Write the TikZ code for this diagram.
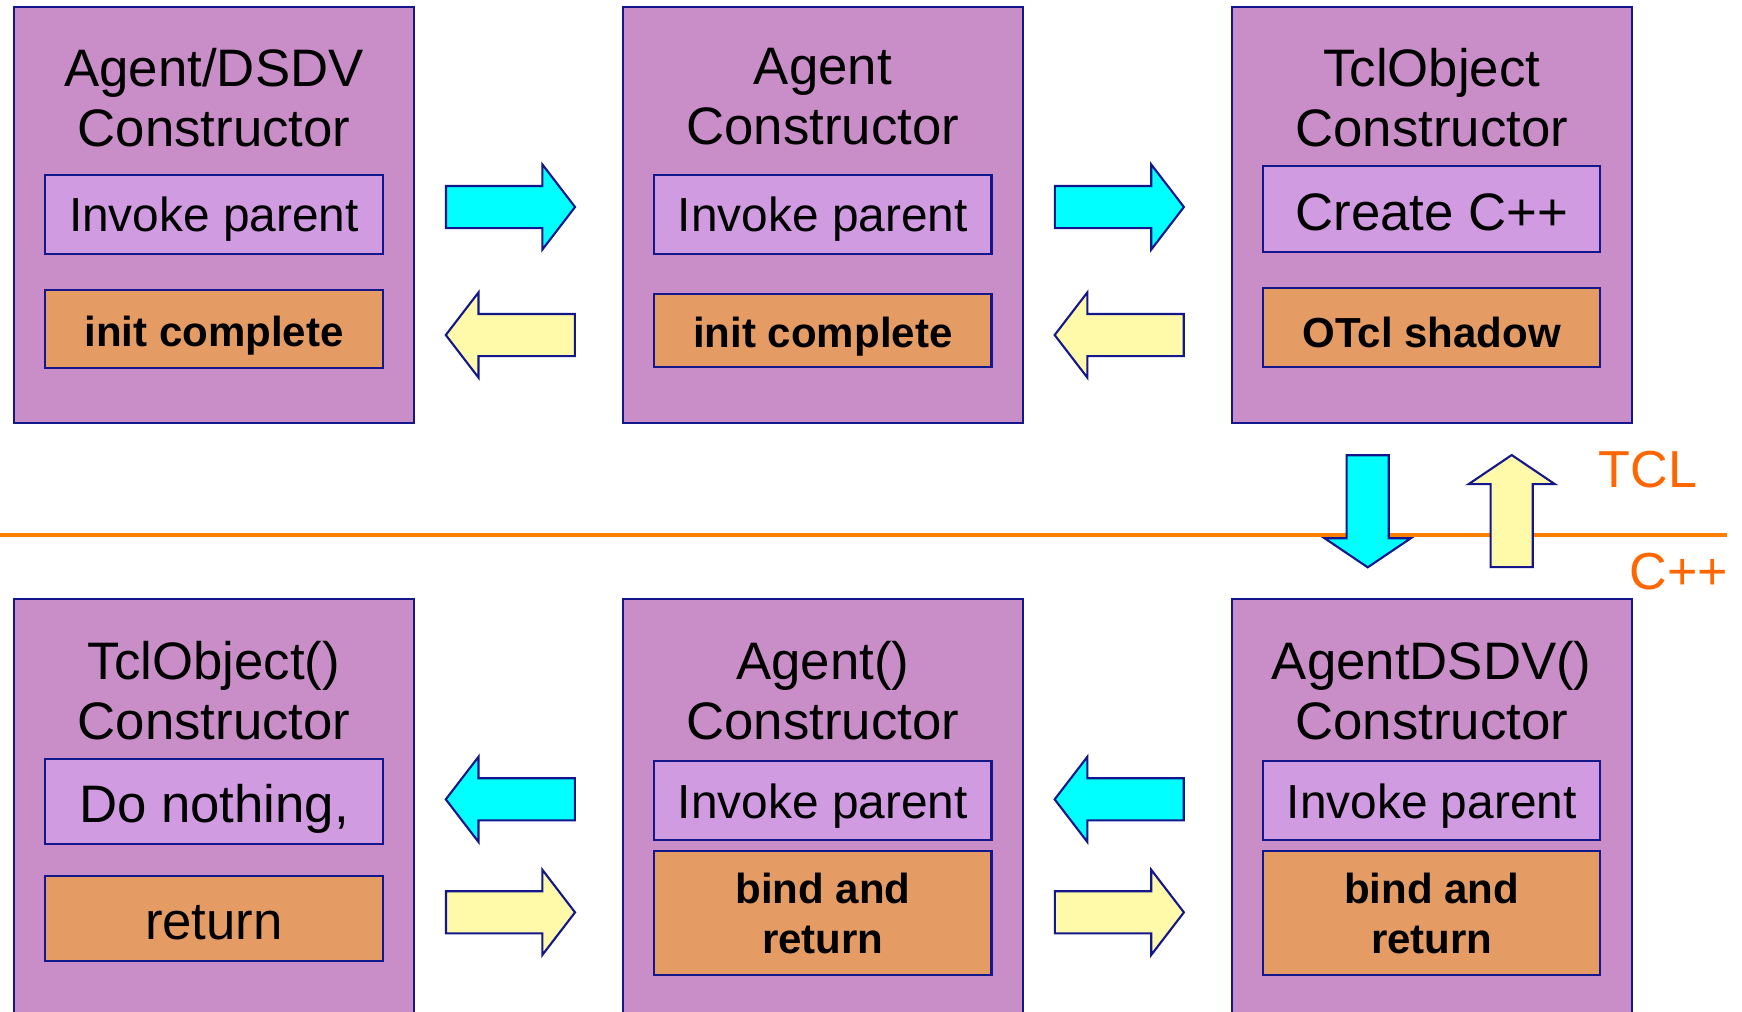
\documentclass[tikz,border=0pt]{standalone}
\usepackage{fontspec}
\setmainfont{Liberation Sans}
\usetikzlibrary{shapes,shapes.arrows,calc,positioning}

\definecolor{classfill}{RGB}{201,142,199}
\definecolor{callfill}{RGB}{208,155,224}
\definecolor{retfill}{RGB}{228,156,100}
\definecolor{rim}{RGB}{20,22,140}
\definecolor{downcall}{RGB}{0,255,255}
\definecolor{upcall}{RGB}{255,250,170}
\definecolor{split}{RGB}{255,128,0}
\definecolor{splittext}{RGB}{255,102,0}

\newcommand{\titlefont}{\fontsize{15}{17.1}\selectfont}
\newcommand{\callfont}{\fontsize{13.6}{16}\selectfont}
\newcommand{\retfont}{\fontsize{11.95}{14.2}\selectfont\bfseries}

\tikzset{
  class/.style={draw=rim, fill=classfill, line width=0.6pt,
    minimum width=4cm, minimum height=4.16cm, inner sep=0pt},
  ctitle/.style={font=\titlefont, align=center, inner sep=0pt},
  part/.style={draw=rim, line width=0.6pt, minimum width=3.37cm, inner sep=0pt},
  call/.style={part, fill=callfill, font=\callfont, text depth=0pt},
  ret/.style={part, fill=retfill, font=\retfont},
  flow/.style={single arrow, draw=rim, line width=0.6pt, inner sep=0.2cm,
    single arrow head extend=0.215cm, single arrow tip angle=105,
    minimum height=1.29cm},
  vflow/.style={flow, single arrow head extend=0.22cm,
    single arrow tip angle=112, minimum height=1.12cm},
  layer/.style={font=\fontsize{14.8}{17}\selectfont, text=splittext,
    anchor=base west, inner sep=0pt}
}

\begin{document}
\begin{tikzpicture}[%
x=0.01cm, y=-0.01cm,
node distance=5.92cm and 6.085cm,
on grid
]
\useasboundingbox (0,0) rectangle (1742,1011);
\clip (0,0) rectangle (1742,1011);

% tcl / c++ border
\coordinate (splitL) at (0,535);
\coordinate (splitR) at (1727,535);
\draw[split, line width=1.4pt] (splitL) -- (splitR);
\node[layer] (tcl) at (1598,487) {TCL};
\node[layer] (cpp) at (1629,589) {C++};

% constructors
\node[class] (dsdvT) at (214,215) {};
\node[class] (agentT) [right=of dsdvT] {};
\node[class] (tclobjT) [right=of agentT] {};
\node[class] (dsdvC) [below=of tclobjT] {};
\node[class] (agentC) [left=of dsdvC] {};
\node[class] (tclobjC) [left=of agentC] {};

\node[ctitle, below=0.42cm of dsdvT.north, anchor=north] (dsdvTt) {Agent/DSDV\\Constructor};
\node[ctitle, below=0.42cm of agentT.north, anchor=north] (agentTt) {Agent\\Constructor};
\node[ctitle, below=0.42cm of tclobjT.north, anchor=north] (tclobjTt) {TclObject\\Constructor};
\node[ctitle, below=0.42cm of tclobjC.north, anchor=north] (tclobjCt) {TclObject()\\Constructor};
\node[ctitle, below=0.42cm of agentC.north, anchor=north] (agentCt) {Agent()\\Constructor};
\node[ctitle, below=0.42cm of dsdvC.north, anchor=north] (dsdvCt) {AgentDSDV()\\Constructor};

% what each one does
\node[call, minimum height=0.79cm] (dsdvTc) [below=2.085cm of dsdvT.north, anchor=center] {Invoke parent};
\node[ret, minimum height=0.78cm, text depth=0pt, text height=0.34cm] (dsdvTr) [below=3.23cm of dsdvT.north, anchor=center] {init complete};
\node[call, minimum height=0.79cm] (agentTc) [below=2.085cm of agentT.north, anchor=center] {Invoke parent};
\node[ret, minimum height=0.73cm, text depth=0pt, text height=0.34cm] (agentTr) [below=3.245cm of agentT.north, anchor=center] {init complete};
\node[call, minimum height=0.86cm, font=\titlefont, text height=0.44cm] (tclobjTc) [below=2.03cm of tclobjT.north, anchor=center] {Create C++};
\node[ret, minimum height=0.79cm, text depth=0pt, text height=0.39cm] (tclobjTr) [below=3.215cm of tclobjT.north, anchor=center] {OTcl shadow};

\node[call, minimum height=0.85cm, font=\titlefont, text height=0.42cm] (tclobjCc) [below=2.03cm of tclobjC.north, anchor=center] {Do nothing,};
\node[ret, minimum height=0.85cm, font=\titlefont, text depth=0pt, text height=0.41cm] (tclobjCr) [below=3.205cm of tclobjC.north, anchor=center] {return};
\node[call, minimum height=0.79cm] (agentCc) [below=2.025cm of agentC.north, anchor=center] {Invoke parent};
\node[ret, minimum height=1.24cm, align=center] (agentCr) [below=3.15cm of agentC.north, anchor=center] {bind and\\return};
\node[call, minimum height=0.79cm] (dsdvCc) [below=2.025cm of dsdvC.north, anchor=center] {Invoke parent};
\node[ret, minimum height=1.24cm, align=center] (dsdvCr) [below=3.15cm of dsdvC.north, anchor=center] {bind and\\return};

% calls going up the chain, returns coming back
\node[flow, fill=downcall] (go1) at ($(dsdvT.east)!0.5!(agentT.west)+(-16,-8)$) {};
\node[flow, fill=upcall, rotate=180] (back1) at ($(dsdvT.east)!0.5!(agentT.west)+(0,120)$) {};
\node[flow, fill=downcall] (go2) at ($(agentT.east)!0.5!(tclobjT.west)+(-16,-8)$) {};
\node[flow, fill=upcall, rotate=180] (back2) at ($(agentT.east)!0.5!(tclobjT.west)+(0,120)$) {};

\node[vflow, fill=downcall, rotate=-90] (go3) at ($(tclobjT.south)!0.5!(dsdvC.north)+(-64,-7)$) {};
\node[vflow, fill=upcall, rotate=90] (back3) at ($(tclobjT.south)!0.5!(dsdvC.north)+(80,7)$) {};

\node[flow, fill=downcall, rotate=180] (go4) at ($(agentC.east)!0.5!(dsdvC.west)+(0,-8)$) {};
\node[flow, fill=upcall] (back4) at ($(agentC.east)!0.5!(dsdvC.west)+(-16,105)$) {};
\node[flow, fill=downcall, rotate=180] (go5) at ($(tclobjC.east)!0.5!(agentC.west)+(0,-8)$) {};
\node[flow, fill=upcall] (back5) at ($(tclobjC.east)!0.5!(agentC.west)+(-16,105)$) {};
\end{tikzpicture}
\end{document}
